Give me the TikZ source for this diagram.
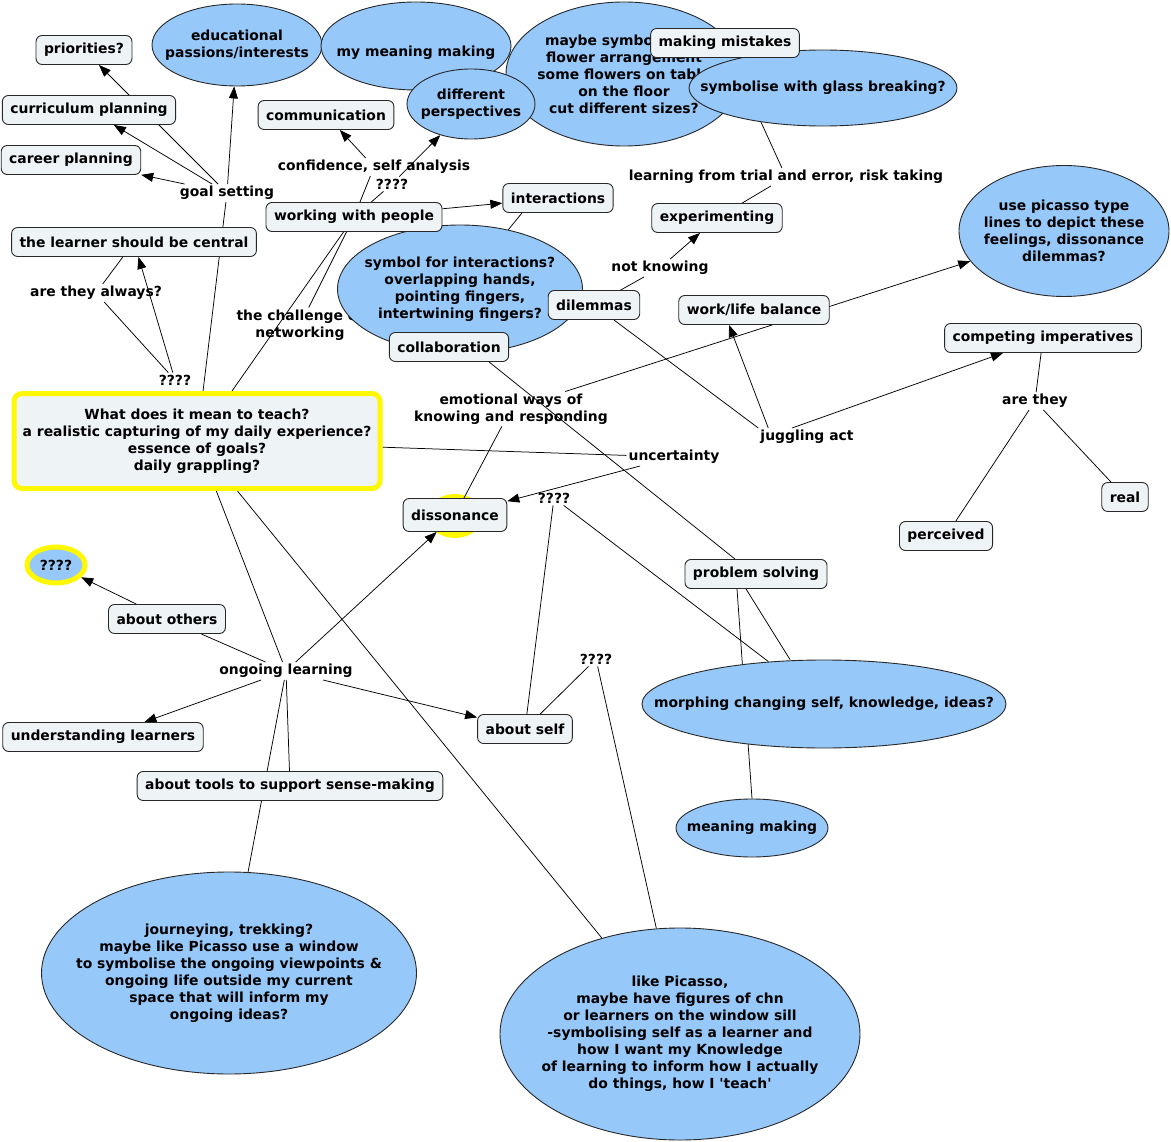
\documentclass[tikz,border=0pt]{standalone}
\usepackage{fontspec}
\newfontfamily\mapfont{DejaVu Sans}
\usetikzlibrary{shapes.geometric,arrows.meta,backgrounds}
\definecolor{ellfill}{RGB}{150,200,250}
\definecolor{boxfill}{RGB}{238,243,246}
\definecolor{bord}{RGB}{40,40,40}
\definecolor{hiyel}{RGB}{255,248,0}
\begin{document}
\begin{tikzpicture}[x=1pt,y=-1pt,
  font=\mapfont\bfseries\fontsize{13.9}{17}\selectfont,
  conc/.style={draw=bord, fill=boxfill, rounded corners=6pt, line width=0.9pt, minimum height=29pt, inner xsep=8pt, inner ysep=3pt, align=center},
  ell/.style={ellipse, draw=bord, fill=ellfill, line width=0.9pt, inner sep=0pt},
  etext/.style={label={[align=center, inner sep=0pt]center:{#1}}},
  lab/.style={inner sep=2pt, align=center},
  lnk/.style={draw=black, line width=0.75pt},
  arr/.style={lnk, -{Triangle[length=12pt,width=9pt]}}]
\useasboundingbox (0,0) rectangle (1171,1142);

% linking phrases
\node[lab] (goal) at (227,193) {goal setting};
\node[lab] (conf) at (374,167) {confidence, self analysis};
\node[lab] (q2) at (392,184) {????};
\node[lab] (chal) at (300,325) {the challenge of\\networking};
\node[lab] (always) at (96,293) {are they always?};
\node[lab] (q1) at (175,380) {????};
\node[lab] (trial) at (786,177) {learning from trial and error, risk taking};
\node[lab] (nk) at (660,268) {not knowing};
\node[lab] (emo) at (511,409) {emotional ways of\\knowing and responding};
\node[lab] (unc) at (674,457) {uncertainty};
\node[lab] (jug) at (807,437) {juggling act};
\node[lab] (arethey) at (1035,401) {are they};
\node[lab] (q3) at (554,498) {????};
\node[lab] (ongoing) at (286,671) {ongoing learning};
\node[lab] (q4) at (596,659) {????};

% top ellipses
\node[ell, minimum width=170pt, minimum height=82pt, etext={educational\\passions/interests}] (edu) at (237,45) {};
\node[ell, minimum width=190pt, minimum height=88pt, label={[inner sep=0pt, yshift=-7pt]center:{my meaning making}}] (mym) at (416,46) {};
\node[ell, minimum width=236pt, minimum height=144pt, etext={maybe symbolise as\\flower arrangement\\some flowers on table\\on the floor\\cut different sizes?}] (flower) at (624,74) {};
\node[ell, minimum width=128pt, minimum height=70pt, etext={different\\perspectives}] (diffp) at (471,104) {};
\node[ell, minimum width=268pt, minimum height=76pt, etext={symbolise with glass breaking?}] (glass) at (823,88) {};
\node[conc] (mist) at (725,43) {making mistakes};

\node[ell, minimum width=210pt, minimum height=131pt, etext={use picasso type\\lines to depict these\\feelings, dissonance\\dilemmas?}] (pic) at (1064,231) {};
\node[ell, minimum width=245pt, minimum height=128pt, etext={symbol for interactions?\\overlapping hands,\\pointing fingers,\\intertwining fingers?}] (symb) at (460,289) {};
\node[ell, minimum width=364pt, minimum height=88pt, etext={morphing changing self, knowledge, ideas?}] (morph) at (824,704) {};
\node[ell, minimum width=152pt, minimum height=58pt, etext={meaning making}] (mm) at (752,828) {};
\node[ell, minimum width=375pt, minimum height=202pt, etext={journeying, trekking?\\maybe like Picasso use a window\\to symbolise the ongoing viewpoints \&\\ongoing life outside my current\\space that will inform my\\ongoing ideas?}] (journ) at (229,973) {};
\node[ell, minimum width=360pt, minimum height=212pt, etext={like Picasso,\\maybe have figures of chn\\or learners on the window sill\\-symbolising self as a learner and\\how I want my Knowledge\\of learning to inform how I actually\\do things, how I 'teach'}] (lpic) at (680,1034) {};
\node[ell, draw=hiyel, line width=5pt, minimum width=58pt, minimum height=36pt, etext={????}] (qell) at (56,565) {};

% concept boxes
\node[conc] (prio) at (84,50) {priorities?};
\node[conc] (curr) at (89,110) {curriculum planning};
\node[conc] (career) at (71,160) {career planning};
\node[conc] (learner) at (134,242) {the learner should be central};
\node[conc] (comm) at (326,115) {communication};
\node[conc] (wwp) at (354,217) {working with people};
\node[conc] (inter) at (558,198) {interactions};
\node[conc] (exper) at (717,218) {experimenting};
\node[conc] (dil) at (594,305) {dilemmas};
\node[conc] (wlb) at (754,310) {work/life balance};
\node[conc] (comp) at (1043,338) {competing imperatives};
\node[conc] (coll) at (449,347) {collaboration};
\node[conc, minimum height=33pt] (diss) at (455,515) {dissonance};
\node[conc] (ps) at (756,574) {problem solving};
\node[conc] (perc) at (946,536) {perceived};
\node[conc] (real) at (1125,497) {real};
\node[conc] (others) at (167,619) {about others};
\node[conc] (under) at (103,737) {understanding learners};
\node[conc] (self) at (525,729) {about self};
\node[conc] (tools) at (290,786) {about tools to support sense-making};
\node[conc, draw=hiyel, line width=5pt, rounded corners=8pt, minimum width=366pt, minimum height=95pt] (main) at (197,441) {What does it mean to teach?\\a realistic capturing of my daily experience?\\essence of goals?\\daily grappling?};

\begin{scope}[on background layer]
\node[ellipse, fill=hiyel, minimum width=56pt, minimum height=44pt, inner sep=0pt] (dissglow) at (455,516) {};
\draw[arr] (goal) -- (prio);
\draw[arr] (goal) -- (curr);
\draw[arr] (goal) -- (career);
\draw[arr] (goal) -- (edu);
\draw[lnk] (goal) -- (main);
\draw[lnk] (main) -- (wwp);
\draw[lnk] (main) -- (ongoing);
\draw[lnk] (main) -- (lpic);
\draw[lnk] (main) -- (unc);
\draw[arr] (q1) -- (learner);
\draw[lnk] (q1) -- (always);
\draw[lnk] (always) -- (learner);
\draw[lnk] (wwp) -- (conf);
\draw[arr] (conf) -- (comm);
\draw[lnk] (wwp) -- (q2);
\draw[arr] (q2) -- (diffp);
\draw[arr] (wwp) -- (inter);
\draw[lnk] ([xshift=-36pt]inter.south) -- (symb);
\draw[lnk] (wwp) -- (chal);
\draw[lnk] (dil) -- (nk);
\draw[arr] (nk) -- (exper);
\draw[lnk] (exper) -- (trial);
\draw[lnk] (trial) -- (mist);
\draw[lnk] (dil) -- (jug.north west);
\draw[arr] ([xshift=10pt]jug.north west) -- ([xshift=-25pt]wlb.south);
\draw[arr] ([xshift=-15pt]jug.north) -- ([xshift=-40pt]comp.south);
\draw[arr] (emo) -- (pic);
\draw[lnk] (emo) -- (diss);
\draw[arr] (unc) -- (diss);
\draw[lnk] ([xshift=40pt]coll.south) -- ([xshift=-21pt]ps.north);
\draw[lnk] (q3) -- (self);
\draw[lnk] (q3) -- (morph);
\draw[lnk] ([xshift=-10pt]ps.south) -- ([xshift=-34pt]morph.north);
\draw[lnk] ([xshift=-19pt]ps.south) -- (mm.north);
\draw[arr] (ongoing) -- (diss);
\draw[lnk] (others) -- (ongoing);
\draw[arr] (ongoing) -- (under);
\draw[arr] (ongoing) -- (self);
\draw[lnk] (ongoing) -- (tools);
\draw[lnk] (ongoing) -- (journ);
\draw[arr] (others) -- (qell);
\draw[lnk] (q4) -- (self);
\draw[lnk] (q4) -- (lpic);
\draw[lnk] (comp) -- (arethey);
\draw[lnk] (arethey) -- (perc);
\draw[lnk] (arethey) -- (real);
\end{scope}
\end{tikzpicture}
\end{document}
